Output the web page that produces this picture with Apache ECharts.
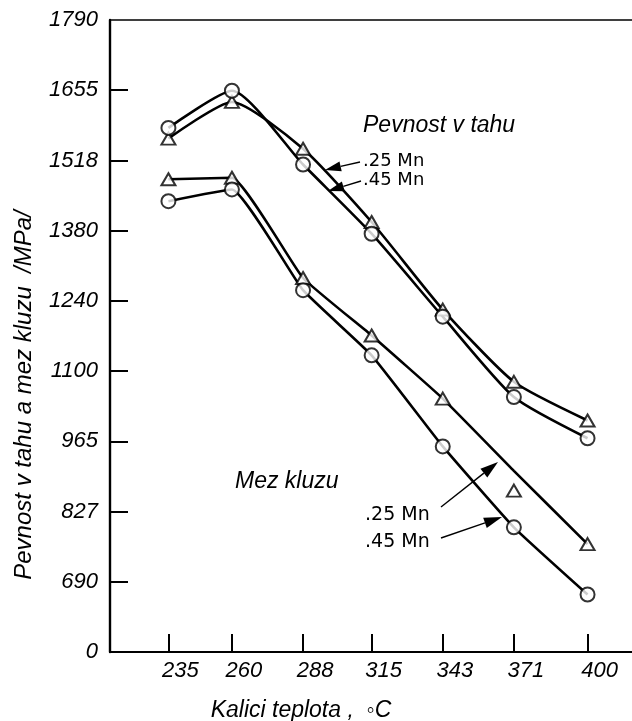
<!DOCTYPE html>
<html>
<head>
<meta charset="utf-8">
<script src="https://cdn.jsdelivr.net/npm/echarts@6/dist/echarts.min.js"></script>
<style>
  html, body { margin: 0; padding: 0; background: #fff; }
  #chart { width: 632px; height: 721px; }
</style>
</head>
<body>
<div id="chart"></div>
<script>
// Quenching temperature, °C
const temps = [235, 260, 288, 315, 343, 371, 400];

// Tensile strength (Pevnost v tahu), MPa
const tensile25Mn = [1561, 1633, 1541, 1397, 1225, 1083, 1007];
const tensile45Mn = [1582, 1655, 1510, 1374, 1211, 1053, 972];

// Yield strength (Mez kluzu), MPa
const yield25Mn = [1481, 1484, 1287, 1174, 1050, 869, 764];
const yield45Mn = [1438, 1461, 1263, 1135, 956, 797, 665];

// Faired curve drawn through the yield .25 Mn points
const yield25MnCurve = [1481, 1484, 1287, 1174, 1050, 908, 764];

// Value axis ticks (MPa) with their printed labels; the scale is broken below 690
const yTickValues = [552, 690, 828, 966, 1104, 1242, 1380, 1518, 1656, 1794];
const yTickLabels = ['0', '690', '827', '965', '1100', '1240', '1380', '1518', '1655', '1790'];

const FONT = 'Liberation Sans';
const BLACK = '#000';

const pairs = (xs, ys) => xs.map((x, i) => [x, ys[i]]);

const chart = echarts.init(document.getElementById('chart'), null, { renderer: 'canvas' });

function lineSeries(values, smooth) {
  return {
    type: 'line',
    data: pairs(temps, values),
    smooth: smooth,
    showSymbol: false,
    symbol: 'none',
    lineStyle: { color: BLACK, width: 2.6 },
    z: 2,
    silent: true
  };
}

function pointSeries(values, symbol, size) {
  return {
    type: 'scatter',
    data: pairs(temps, values),
    symbol: symbol,
    symbolSize: size,
    itemStyle: { color: '#fff', borderColor: BLACK, borderWidth: 2 },
    z: 5,
    silent: true
  };
}

// Arrow from a label toward its curve
function arrow(x0, y0, x1, y1, headLen, headW) {
  const dx = x1 - x0, dy = y1 - y0;
  const len = Math.sqrt(dx * dx + dy * dy);
  const ux = dx / len, uy = dy / len;
  const bx = x1 - ux * headLen, by = y1 - uy * headLen;
  const nx = -uy * headW / 2, ny = ux * headW / 2;
  return [
    { type: 'line', shape: { x1: x0, y1: y0, x2: bx, y2: by },
      style: { stroke: BLACK, lineWidth: 1.4 }, z: 10 },
    { type: 'polygon', shape: { points: [[x1, y1], [bx + nx, by + ny], [bx - nx, by - ny]] },
      style: { fill: BLACK }, z: 10 }
  ];
}

function label(text, x, y, opts) {
  return {
    type: 'text', x: x, y: y, z: 10,
    rotation: (opts && opts.rotation) || 0,
    style: Object.assign({
      text: text, fill: BLACK,
      fontFamily: FONT, fontSize: 23, fontStyle: 'italic',
      align: 'left', verticalAlign: 'middle'
    }, opts && opts.style)
  };
}

const smallLabel = { fontFamily: 'DejaVu Sans', fontStyle: 'normal', fontSize: 18 };

const option = {
  backgroundColor: '#fff',
  animation: false,
  grid: { left: 110, right: 0, top: 20, bottom: 69, containLabel: false },
  xAxis: [
    {
      type: 'value',
      min: 212,
      max: 417.5,
      axisLine: { show: true, lineStyle: { color: BLACK, width: 2 } },
      axisTick: { show: true, inside: true, length: 18, customValues: temps,
                  lineStyle: { color: BLACK, width: 2 } },
      axisLabel: {
        customValues: temps,
        formatter: v => String(v),
        color: BLACK, fontFamily: FONT, fontSize: 22, fontStyle: 'italic',
        margin: 8, padding: [0, 0, 0, 24]
      },
      splitLine: { show: false }
    },
    {
      // top frame line
      type: 'value', position: 'top', min: 212, max: 417.5,
      axisLine: { show: true, lineStyle: { color: BLACK, width: 1.6 } },
      axisTick: { show: false }, axisLabel: { show: false }, splitLine: { show: false }
    }
  ],
  yAxis: {
    type: 'value',
    min: 552,
    max: 1794,
    axisLine: { show: true, lineStyle: { color: BLACK, width: 2.4 } },
    axisTick: { show: true, inside: true, length: 18, customValues: yTickValues.slice(1, -1),
                lineStyle: { color: BLACK, width: 2 } },
    axisLabel: {
      customValues: yTickValues,
      formatter: v => yTickLabels[yTickValues.indexOf(v)],
      color: BLACK, fontFamily: FONT, fontSize: 22, fontStyle: 'italic',
      margin: 12
    },
    splitLine: { show: false }
  },
  series: [
    lineSeries(tensile25Mn, 0.2),
    lineSeries(tensile45Mn, 0.2),
    lineSeries(yield25MnCurve, 0.12),
    lineSeries(yield45Mn, 0.12),
    pointSeries(tensile25Mn, 'triangle', [14, 12]),
    pointSeries(tensile45Mn, 'circle', 14),
    pointSeries(yield25Mn, 'triangle', [14, 12]),
    pointSeries(yield45Mn, 'circle', 14)
  ],
  graphic: [
    label('Pevnost v tahu a mez kluzu  /MPa/', 24, 395,
          { rotation: Math.PI / 2, style: { align: 'center', fontSize: 24 } }),
    label('Kalici teplota ,  \u25E6C', 301, 711, { style: { align: 'center' } }),
    label('Pevnost v tahu', 363, 126),
    label('.25 Mn', 363, 161, { style: smallLabel }),
    label('.45 Mn', 363, 180, { style: smallLabel }),
    label('Mez kluzu', 235, 482),
    label('.25 Mn', 365, 515, { style: Object.assign({}, smallLabel, { fontSize: 19 }) }),
    label('.45 Mn', 365, 542, { style: Object.assign({}, smallLabel, { fontSize: 19 }) }),
    ...arrow(360, 162, 325, 170, 16, 10),
    ...arrow(361, 181, 328, 191, 16, 10),
    ...arrow(441, 507, 498, 462, 18, 11),
    ...arrow(441, 538, 502, 517, 18, 11)
  ]
};

chart.setOption(option);
</script>
</body>
</html>
